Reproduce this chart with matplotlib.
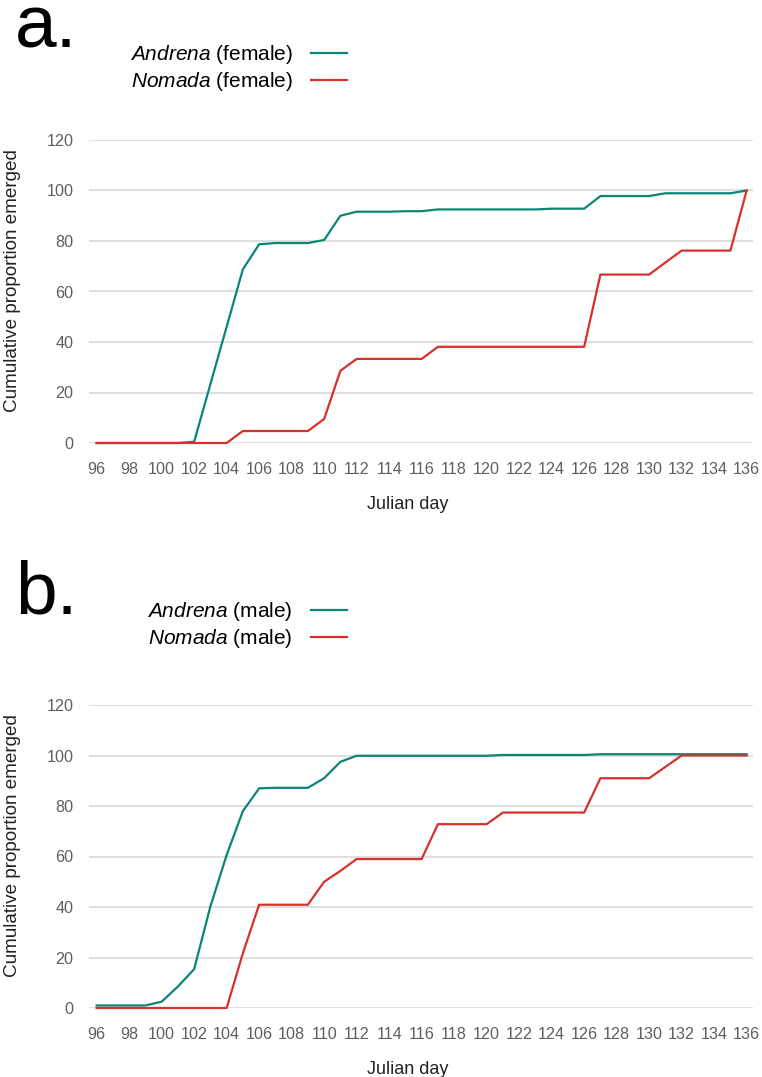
#Cumulative emergence, Andrena vs Nomada
from matplotlib import pyplot as plt

plt.rcParams['font.family'] = ['Liberation Sans', 'DejaVu Sans']
plt.rcParams['mathtext.fontset'] = 'custom'
plt.rcParams['mathtext.it'] = 'Liberation Sans:italic'
plt.rcParams['mathtext.rm'] = 'Liberation Sans'

days = [96, 97, 98, 99, 100, 101, 102, 103, 104, 105, 106, 107, 108, 109,
        110, 111, 112, 113, 114, 115, 116, 117, 118, 119, 120, 121, 122, 123,
        124, 125, 126, 127, 128, 129, 130, 131, 132, 133, 134, 135, 136]

andrena_female = [0, 0, 0, 0, 0, 0, 0.5, 23.3, 46, 68.8, 78.7, 79.2, 79.2, 79.2,
                  80.4, 90, 91.6, 91.6, 91.6, 91.8, 91.8, 92.5, 92.5, 92.5, 92.5, 92.5,
                  92.5, 92.5, 92.8, 92.8, 92.8, 97.8, 97.8, 97.8, 97.8, 98.9, 98.9, 98.9,
                  98.9, 98.9, 100]
nomada_female = [0, 0, 0, 0, 0, 0, 0, 0, 0, 4.75, 4.75, 4.75, 4.75, 4.75,
                 9.5, 28.6, 33.3, 33.3, 33.3, 33.3, 33.3, 38.1, 38.1, 38.1, 38.1, 38.1,
                 38.1, 38.1, 38.1, 38.1, 38.1, 66.7, 66.7, 66.7, 66.7, 71.5, 76.2, 76.2,
                 76.2, 76.2, 100]

andrena_male = [1, 1, 1, 1, 2.5, 8.5, 15.4, 40.2, 60.6, 78, 87, 87.2, 87.2, 87.2,
                91, 97.5, 99.9, 99.9, 99.9, 99.9, 99.9, 99.9, 99.9, 99.9, 99.9, 100.2,
                100.2, 100.2, 100.2, 100.2, 100.2, 100.5, 100.5, 100.5, 100.5, 100.5,
                100.5, 100.5, 100.5, 100.5, 100.5]
nomada_male = [0, 0, 0, 0, 0, 0, 0, 0, 0, 21.7, 40.9, 40.9, 40.9, 40.9,
               50, 54.3, 59, 59, 59, 59, 59, 72.8, 72.8, 72.8, 72.8, 77.4,
               77.4, 77.4, 77.4, 77.4, 77.4, 91, 91, 91, 91, 95.5, 100, 100,
               100, 100, 100]

x_ticks = list(range(96, 137, 2))
y_ticks = [0, 20, 40, 60, 80, 100, 120]

teal = '#0b8574'
red = '#d8302a'

W, H = 762, 1077
fig = plt.figure(figsize=(W / 100, H / 100), dpi=100)


def make_panel(top_px, letter, sex, yA, yN, legend_top):
    ax = fig.add_axes([89 / W, (H - top_px - 303) / H, 664 / W, 303 / H])
    la, = ax.plot(days, yA, color=teal, lw=1.6, clip_on=False, zorder=3)
    ln, = ax.plot(days, yN, color=red, lw=1.6, clip_on=False, zorder=3)
    ax.set_xlim(95.53, 136.39)
    ax.set_ylim(0, 120)
    ax.set_xticks(x_ticks)
    ax.set_yticks(y_ticks)
    ax.grid(axis='y', color='#d9d9d9', lw=1.2)
    ax.set_axisbelow(True)
    for s in ax.spines.values():
        s.set_visible(False)
    ax.tick_params(length=0, labelsize=11.6, colors='#5e5e5e')
    ax.tick_params(axis='x', pad=14)
    ax.tick_params(axis='y', pad=11)
    ax.set_xlabel('Julian day', fontsize=13, color='#222222')
    ax.xaxis.set_label_coords(0.48, -0.175)
    ax.set_ylabel('Cumulative proportion emerged', fontsize=13.6, color='#222222')
    ax.yaxis.set_label_coords(-0.103, 0.535)

    fig.text(15 / W, 1 - (top_px - 92) / H, letter, fontsize=54,
             ha='left', va='baseline')
    fig.legend([la, ln],
               [r'$\mathit{Andrena}$ (' + sex + ')', r'$\mathit{Nomada}$ (' + sex + ')'],
               loc='upper right', bbox_to_anchor=(347 / W, 1 - legend_top / H),
               frameon=False, markerfirst=False, fontsize=15,
               handlelength=1.75, handletextpad=0.85, labelspacing=0.2,
               borderpad=0, borderaxespad=0)
    return ax


make_panel(140, 'a.', 'female', andrena_female, nomada_female, 43)
make_panel(705, 'b.', 'male', andrena_male, nomada_male, 600)

plt.savefig('out.png', dpi=100)
